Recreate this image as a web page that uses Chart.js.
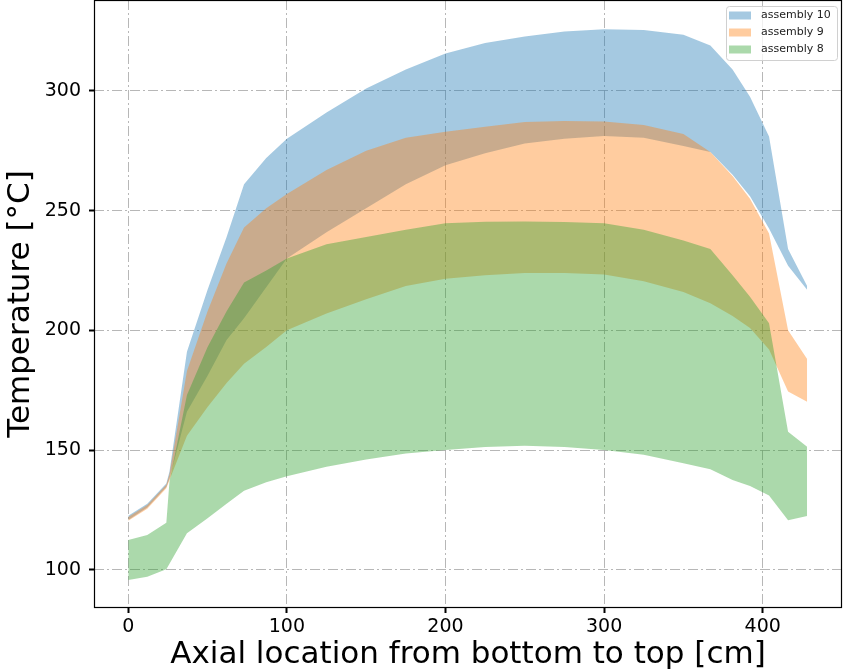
<!DOCTYPE html>
<html>
<head>
<meta charset="utf-8">
<script src="https://cdn.jsdelivr.net/npm/chart.js@4.4.1/dist/chart.umd.min.js"></script>
<style>
    html, body { margin: 0; padding: 0; background: #fff; }
    #wrap { width: 843px; height: 671px; }
</style>
</head>
<body>
<div id="wrap"><canvas id="tempChart" width="843" height="671"></canvas></div>
<script>
// posições axiais (cm)
const axial = [0, 12, 24, 26, 37, 50, 62, 73, 87, 100, 125, 150, 175, 200, 225, 250, 275, 300, 325, 350, 367, 381, 392, 404, 416, 428];

// faixas de temperatura (limite superior / inferior) por assembly
const asm10Hi = [122.5, 127.5, 136, 141, 191, 217, 239, 261, 272, 280, 291, 301, 309, 315.7, 320, 322.8, 324.8, 325.8, 325.5, 323.5, 319, 309, 297.6, 281, 234, 218.5];
const asm10Lo = [120.8, 126, 134.5, 138, 166, 181, 196, 205, 218, 230, 241, 251, 261, 269, 274, 278, 280, 281.2, 280.5, 277, 274.5, 265, 256, 242.5, 227, 217];
const asm9Hi = [122, 127, 135.5, 140, 183, 208, 228, 243, 251, 257, 267, 275, 280.5, 283, 285, 287, 287.5, 287.2, 285.8, 282, 274.5, 264.5, 255, 240.5, 200, 188];
const asm9Lo = [120.5, 125.5, 134, 137.5, 156, 168, 178, 186, 193, 200, 207, 213, 218.5, 221.5, 223, 224, 224, 223.3, 220.5, 216, 211.3, 206, 201, 192, 174.4, 170.2];
const asm8Hi = [112.4, 114.5, 119.6, 137, 173, 193, 208, 220, 225, 230, 236, 239, 242, 244.7, 245.4, 245.5, 245.3, 244.7, 242, 237.5, 234, 223, 214, 203, 157.6, 151.4];
const asm8Lo = [95.7, 97.1, 100.2, 102.5, 115.2, 121.5, 127.5, 133, 136.5, 139, 143, 146, 148.5, 150, 151.3, 151.8, 151.3, 150, 148, 144.5, 142, 137.5, 135, 131, 120.7, 122.4];

const legendNames = ['assembly 10', 'assembly 9', 'assembly 8'];
const xTicks = [0, 100, 200, 300, 400];
const yTicks = [100, 150, 200, 250, 300];

const FONT = 'DejaVu Sans';
const azul = 'rgba(31,119,180,0.4)';
const laranja = 'rgba(255,127,14,0.4)';
const verde = 'rgba(44,160,44,0.4)';

const pts = arr => arr.map((v, i) => ({ x: axial[i], y: v }));

// par de datasets: superior preenche até o inferior
function faixa(hi, lo, cor, nome, ordem) {
    const base = { borderColor: 'transparent', borderWidth: 0, pointRadius: 0, tension: 0, order: ordem };
    return [
        { ...base, data: pts(hi), backgroundColor: cor, fill: '+1', legendText: nome },
        { ...base, data: pts(lo), backgroundColor: cor, fill: false }
    ];
}

// moldura dos eixos + legenda dentro da área
const molduraLegenda = {
    id: 'molduraLegenda',
    afterDatasetsDraw(chart) {
        const ctx = chart.ctx;
        const a = chart.chartArea;
        ctx.save();
        ctx.strokeStyle = '#000';
        ctx.lineWidth = 1.2;
        ctx.strokeRect(a.left + 0.5, a.top + 0.5, a.right - a.left - 1, a.bottom - a.top - 1);

        const itens = chart.data.datasets.filter(d => d.legendText);
        const w = 111, rowH = 17;
        const h = itens.length * rowH + 3;
        const x0 = a.right - 5 - w, y0 = a.top + 6;
        ctx.beginPath();
        ctx.roundRect(x0 + 0.5, y0 + 0.5, w, h, 3);
        ctx.fillStyle = 'rgba(255,255,255,0.8)';
        ctx.fill();
        ctx.strokeStyle = '#d0d0d0';
        ctx.lineWidth = 1;
        ctx.stroke();

        ctx.font = `11px "${FONT}"`;
        ctx.textBaseline = 'middle';
        itens.forEach((d, i) => {
            const cy = y0 + 9.5 + i * rowH;
            ctx.fillStyle = d.backgroundColor;
            ctx.fillRect(x0 + 3, cy - 4, 22, 8);
            ctx.fillStyle = '#222';
            ctx.fillText(d.legendText, x0 + 35, cy);
        });
        ctx.restore();
    }
};

const gridCfg = {
    color: 'rgba(170,170,170,0.85)',
    lineWidth: 1,
    tickLength: 5,
    tickColor: '#000',
    tickWidth: 2
};

new Chart(document.getElementById('tempChart'), {
    type: 'line',
    data: {
        datasets: [
            ...faixa(asm10Hi, asm10Lo, azul, legendNames[0], 3),
            ...faixa(asm9Hi, asm9Lo, laranja, legendNames[1], 2),
            ...faixa(asm8Hi, asm8Lo, verde, legendNames[2], 1)
        ]
    },
    options: {
        responsive: false,
        animation: false,
        devicePixelRatio: 1,
        layout: { padding: { top: 0, right: 1, left: 0, bottom: 0 } },
        plugins: {
            legend: { display: false },
            tooltip: { enabled: false }
        },
        scales: {
            x: {
                type: 'linear',
                min: -21.6,
                max: 450,
                afterBuildTicks: s => { s.ticks = xTicks.map(v => ({ value: v })); },
                afterFit: s => { s.height = 63; s.paddingLeft = 0; s.paddingRight = 0; },
                ticks: { font: { family: FONT, size: 19 }, color: '#000', padding: 3, maxRotation: 0, autoSkip: false },
                grid: gridCfg,
                border: { display: false, dash: [10, 3, 2, 3] },
                title: {
                    display: true,
                    text: 'Axial location from bottom to top [cm]',
                    font: { family: FONT, size: 31, lineHeight: 1 },
                    color: '#000',
                    padding: { top: 0, bottom: 1 }
                }
            },
            y: {
                min: 84,
                max: 338,
                afterBuildTicks: s => { s.ticks = yTicks.map(v => ({ value: v })); },
                afterFit: s => { s.width = 94; s.paddingTop = 0; s.paddingBottom = 0; },
                ticks: { font: { family: FONT, size: 19 }, color: '#000', padding: 8 },
                grid: gridCfg,
                border: { display: false, dash: [10, 3, 2, 3] },
                title: {
                    display: true,
                    text: 'Temperature [°C]',
                    font: { family: FONT, size: 31, lineHeight: 1 },
                    color: '#000',
                    padding: { top: 5, bottom: 0 }
                }
            }
        }
    },
    plugins: [molduraLegenda]
});
</script>
</body>
</html>
